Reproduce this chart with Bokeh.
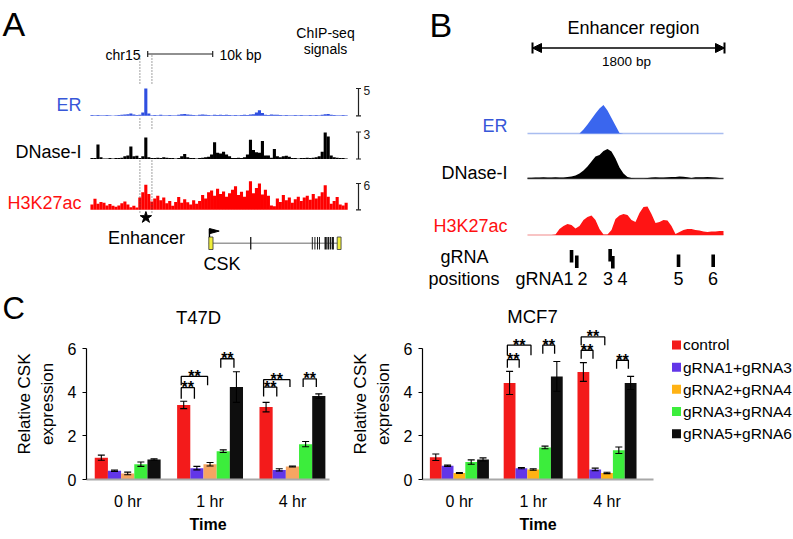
import numpy as np
from bokeh.plotting import figure
from bokeh.models import (Range1d, FixedTicker, Arrow, NormalHead, TeeHead,
                          Whisker, ColumnDataSource)
from bokeh.layouts import column, row
from bokeh.embed import file_html
from bokeh.resources import INLINE
from bokeh.core.properties import value

FONT = "Liberation Sans"

# ---------------- data ----------------
# Panel A: ChIP-seq signal per genomic bin (bin = 0.46 kb)
ER_A = [0.15, 0.10, 0.15, 0.10, 0.10, 0.15, 0.10, 0.05, 0.10, 0.15,
        0.20, 0.25, 0.30, 0.40, 0.25, 0.15, 0.20, 0.60, 5.00, 0.40,
        0.10, 0.15, 0.10, 0.20, 0.10, 0.10, 0.15, 0.10, 0.10, 0.20,
        0.30, 0.35, 0.25, 0.20, 0.15, 0.10, 0.20, 0.25, 0.20, 0.15,
        0.10, 0.20, 0.15, 0.20, 0.15, 0.20, 0.15, 0.10, 0.15, 0.10,
        0.15, 0.20, 0.15, 0.25, 0.30, 0.60, 1.00, 0.50, 0.20, 0.15,
        0.25, 0.20, 0.20, 0.15, 0.10, 0.15, 0.10, 0.10, 0.15, 0.10,
        0.15, 0.10, 0.10, 0.15, 0.10, 0.15, 0.10, 0.20, 0.30, 0.35,
        0.20, 0.15, 0.10, 0.10, 0.15, 0.10]
DNASE_A = [0.10, 0.10, 1.60, 0.20, 0.05, 0.05, 0.10, 0.05, 0.10, 0.10,
           0.15, 0.30, 0.40, 1.40, 0.30, 0.35, 0.10, 0.30, 2.40, 0.20,
           0.10, 0.10, 0.15, 0.10, 0.20, 0.15, 0.10, 0.10, 0.05, 0.10,
           0.30, 0.55, 0.20, 0.10, 0.10, 0.05, 0.10, 0.15, 0.20, 0.25,
           0.50, 1.85, 0.70, 0.60, 0.80, 0.50, 0.30, 0.10, 0.10, 0.15,
           0.10, 0.20, 0.50, 2.15, 1.00, 0.75, 0.70, 2.00, 0.40, 0.40,
           0.15, 1.10, 0.30, 0.20, 0.30, 0.35, 0.25, 0.10, 0.10, 0.05,
           0.10, 0.10, 0.15, 0.10, 0.15, 0.20, 0.30, 0.80, 2.95, 2.50,
           0.40, 0.20, 0.15, 0.10, 0.10, 0.05]
H3K27AC_A = [1.2, 2.5, 1.4, 1.8, 1.6, 1.0, 1.3, 0.9, 0.7, 1.0,
             1.5, 1.9, 1.2, 0.6, 0.9, 0.5, 2.8, 4.0, 5.7, 3.6,
             1.9, 2.6, 3.2, 2.2, 2.8, 1.5, 2.0, 0.9, 1.8, 2.9,
             1.6, 2.4, 1.7, 1.2, 2.2, 1.4, 2.0, 3.4, 2.6, 4.0,
             4.4, 3.2, 4.8, 3.6, 4.2, 3.0, 3.8, 4.6, 5.4, 3.4,
             4.1, 3.0, 4.4, 6.5, 3.8, 5.0, 6.0, 3.5, 4.6, 3.2,
             1.0, 0.8, 2.6, 1.8, 3.4, 2.2, 2.8, 1.6, 2.4, 3.0,
             2.0, 2.8, 3.2, 2.3, 3.6, 2.6, 3.1, 4.0, 5.6, 3.0,
             1.4, 2.0, 2.9, 1.2, 1.0, 1.6]
TRACK_MAX_A = [5, 3, 6]
# CSK gene model (kb along panel A)
CSK_EXON_START = [18.2, 24.55, 34.05, 34.45, 34.85, 35.15, 36.0, 36.45, 36.8, 37.15, 37.95]
CSK_EXON_END = [18.85, 24.75, 34.2, 34.6, 35.0, 35.3, 36.35, 36.7, 37.05, 37.45, 38.55]
CSK_UTR = [True, False, False, False, False, False, False, False, False, False, True]
SCALE_KB = 10

# Panel B: enhancer-region signals sampled every 37.5 bp
ER_B = [0, 0, 0, 0, 0, 0, 0, 0, 0, 0, 0, 0, 0, 0,
        4, 9, 14.5, 20, 25, 28.5, 23, 15.5, 8, 0.5,
        0, 0, 0, 0, 0, 0, 0, 0, 0, 0, 0, 0, 0, 0, 0, 0, 0, 0, 0, 0, 0, 0, 0, 0, 0, 0]
DNASE_B = [0.8, 0.8, 1.0, 1.0, 1.2, 1.0, 1.0, 1.2, 1.0, 1.0,
           1.5, 2.0, 3.0, 5.0, 8.0, 12.0, 17.0, 22.0, 23.5, 27.5,
           29.5, 27.0, 20.0, 11.0, 5.0, 1.5, 0.5, 0.3, 0.3, 0.3,
           0.5, 1.0, 1.2, 1.0, 1.0, 1.3, 1.5, 1.6, 2.0, 1.8,
           1.2, 0.5, 1.2, 1.3, 1.3, 1.4, 1.2, 1.0, 0.5, 0.3]
H3K27AC_B = [0, 0, 0, 0, 0, 0, 0,
             0.5, 6, 9, 11, 10, 6.5, 9, 15, 18, 19.5, 15, 6, 0.5,
             0.5, 5, 16, 19.5, 21, 20, 15, 13, 22, 28,
             28.5, 21, 12, 13, 15, 14.5, 9, 1, 3, 5,
             6, 6, 5, 4.5, 3.5, 3, 3.5, 3.5, 4, 4]
GRNA_LABELS = ["1", "2", "3", "4", "5", "6"]
GRNA_BP = [366, 415, 728, 753, 1369, 1694]
REGION_BP = 1800

# Panel C: relative CSK expression, [series][time]
TIMES = ["0 hr", "1 hr", "4 hr"]
SERIES = ["control", "gRNA1+gRNA3", "gRNA2+gRNA4", "gRNA3+gRNA4", "gRNA5+gRNA6"]
T47D_MEAN = [[1.00, 3.42, 3.32],
             [0.40, 0.52, 0.44],
             [0.28, 0.70, 0.60],
             [0.70, 1.30, 1.62],
             [0.92, 4.24, 3.83]]
T47D_ERR = [[0.12, 0.17, 0.22],
            [0.03, 0.08, 0.05],
            [0.06, 0.08, 0.02],
            [0.10, 0.06, 0.12],
            [0.03, 0.70, 0.10]]
MCF7_MEAN = [[1.02, 4.43, 4.93],
             [0.63, 0.52, 0.46],
             [0.30, 0.46, 0.30],
             [0.80, 1.47, 1.34],
             [0.92, 4.73, 4.43]]
MCF7_ERR = [[0.15, 0.53, 0.43],
            [0.03, 0.03, 0.06],
            [0.02, 0.03, 0.03],
            [0.10, 0.06, 0.15],
            [0.07, 0.68, 0.30]]
# significance brackets: (time index, from series, to series, top, leg bottom)
T47D_SIG = [(1, 0, 2, 4.73, 4.32), (1, 0, 1, 4.21, 3.70), (1, 3, 4, 5.54, 5.13),
            (2, 0, 2, 4.58, 4.24), (2, 0, 1, 4.24, 3.81), (2, 3, 4, 4.62, 4.24)]
MCF7_SIG = [(1, 0, 2, 6.16, 5.70), (1, 0, 1, 5.50, 5.13), (1, 3, 4, 6.16, 5.77),
            (2, 0, 2, 6.54, 6.16), (2, 0, 1, 5.93, 5.54), (2, 3, 4, 5.47, 5.08)]

# ---------------- styles ----------------
BLUE = "#3757d8"
RED = "#ff1010"
T47D_COLORS = ["#f31b1b", "#6236e8", "#f6a562", "#3ced3c", "#0e0e0e"]
MCF7_COLORS = ["#f31b1b", "#6236e8", "#ffb214", "#3ced3c", "#0e0e0e"]


def txt(p, x, y, s, size, color="black", align="left", baseline="middle",
        style="normal", **kw):
    p.text(x=[x], y=[y], text=[s], text_font=value(FONT), text_font_size=f"{size}px",
           text_color=color, text_align=align, text_baseline=baseline,
           text_font_style=style, **kw)


def canvas_fig(w, y0, y1):
    p = figure(width=w, height=y1 - y0, x_range=Range1d(0, w), y_range=Range1d(y1, y0),
               output_backend="svg", toolbar_location=None, min_border=0,
               x_axis_location=None, y_axis_location=None)
    p.grid.visible = False
    p.outline_line_color = None
    return p


# ================= top figure: panels A and B =================
W = 793
Y_TOP, Y_BOT = 0, 290
top = canvas_fig(W, Y_TOP, Y_BOT)
X_L, X_R = 0, W


def yr(base, px_per_unit):
    return Range1d(-(Y_BOT - base) / px_per_unit, (base - Y_TOP) / px_per_unit)


# ---- panel A
KB_PX, A_X0, BIN_KB = 6.5, 90.0, 0.46
top.extra_x_ranges["kb"] = Range1d((X_L - A_X0) / KB_PX, (X_R - A_X0) / KB_PX)
tracks_a = [("erA", 115.3, 27.3, ER_A, "#2f4fe0", "ER", BLUE, 104),
            ("dnA", 158.5, 27.0, DNASE_A, "#000000", "DNase-I", "black", 151),
            ("hkA", 209.3, 26.3, H3K27AC_A, "#ff0000", "H3K27ac", RED, 202)]
for (name, base, hpx, vals, col, lab, labcol, laby), smax in zip(tracks_a, TRACK_MAX_A):
    top.extra_y_ranges[name] = yr(base, hpx / smax)
    xs = (np.arange(len(vals)) + 0.5) * BIN_KB
    top.vbar(x=xs, width=BIN_KB * 1.04, top=vals, bottom=0, x_range_name="kb",
             y_range_name=name, fill_color=col, line_color=None)
    top.segment(x0=[358], y0=[0], x1=[358], y1=[smax], y_range_name=name,
                line_color="#222222", line_width=1.2)
    top.segment(x0=[355.5, 355.5], y0=[0, smax], x1=[360.5, 360.5], y1=[0, smax],
                y_range_name=name, line_color="#222222", line_width=1.2)
    top.text(x=[363], y=[smax], text=[str(smax)], y_range_name=name,
             text_font=value(FONT), text_font_size="12px", text_baseline="middle",
             y_offset=2, text_color="#222222")
    txt(top, 81, laby, lab, 18, color=labcol, align="right")

# enhancer dotted guides
enh_kb = [7.6, 9.45]
for y0, y1 in [(55, 85), (118, 130), (160, 213)]:
    top.segment(x0=enh_kb, y0=[y0, y0], x1=enh_kb, y1=[y1, y1], x_range_name="kb",
                line_color="#444444", line_width=1, line_dash="1 2")
top.scatter(x=[(enh_kb[0] + enh_kb[1]) / 2], y=[217], x_range_name="kb",
            marker="star", size=12, color="black")

# scale bar
sb0 = 8.8
top.segment(x0=[sb0], y0=[53.5], x1=[sb0 + SCALE_KB], y1=[53.5], x_range_name="kb",
            line_color="#222222", line_width=1.2)
top.segment(x0=[sb0, sb0 + SCALE_KB], y0=[50.5, 50.5], x1=[sb0, sb0 + SCALE_KB],
            y1=[56.5, 56.5], x_range_name="kb", line_color="#222222", line_width=1.2)
txt(top, 140, 54, "chr15", 14, align="right")
txt(top, 219, 54, "10k bp", 14)
txt(top, 325, 32, "ChIP-seq", 14, align="center")
txt(top, 325, 48.5, "signals", 14, align="center")
txt(top, 2, 23, "A", 34)

# gene model
top.segment(x0=[CSK_EXON_START[0]], y0=[242.7], x1=[CSK_EXON_END[-1]], y1=[242.7],
            x_range_name="kb", line_color="#9a9a9a", line_width=1.6)
ex_col = ["#f0ee3a" if u else "#1a1a1a" for u in CSK_UTR]
top.quad(left=CSK_EXON_START, right=CSK_EXON_END, top=[236.5] * len(CSK_EXON_START),
         bottom=[249] * len(CSK_EXON_START), x_range_name="kb",
         fill_color=ex_col, line_color="#333333",
         line_width=[0.8 if u else 0 for u in CSK_UTR])
g0 = CSK_EXON_START[0] + 0.1
top.segment(x0=[g0], y0=[236.5], x1=[g0], y1=[228.5], x_range_name="kb",
            line_color="black", line_width=1.4)
top.patch(x=[g0, g0 + 1.5, g0], y=[228, 230.6, 233.2], x_range_name="kb",
          fill_color="black", line_color="black")
txt(top, 146, 237, "Enhancer", 18, align="center")
txt(top, 221.5, 263, "CSK", 18, align="center")

# ---- panel B
BP_PX, B_X0 = 192.0 / REGION_BP, 532.0
B_START_BP, B_STEP_BP = -47.0, 37.5
top.extra_x_ranges["bp"] = Range1d((X_L - B_X0) / BP_PX, (X_R - B_X0) / BP_PX)
bx = B_START_BP + B_STEP_BP * np.arange(len(ER_B))
tracks_b = [("erB", 133, ER_B, "#3a66ee", "#a9bdf0", "ER", BLUE, 125),
            ("dnB", 178, DNASE_B, "#000000", "#555555", "DNase-I", "black", 172),
            ("hkB", 234.5, H3K27AC_B, "#ff1414", "#f6b0b0", "H3K27ac", RED, 225)]
for name, base, vals, col, bcol, lab, labcol, laby in tracks_b:
    top.extra_y_ranges[name] = yr(base, 1.0)
    top.line(x=[bx[0], bx[-1]], y=[0, 0], x_range_name="bp", y_range_name=name,
             line_color=bcol, line_width=1.3)
    top.varea(x=bx, y1=np.zeros(len(vals)), y2=vals, x_range_name="bp",
              y_range_name=name, fill_color=col)
    txt(top, 507, laby, lab, 18, color=labcol, align="right")

txt(top, 429, 24, "B", 34)
txt(top, 633, 27, "Enhancer region", 18, align="center")
top.add_layout(Arrow(start=NormalHead(size=9, fill_color="black", line_color="black"),
                     end=NormalHead(size=9, fill_color="black", line_color="black"),
                     x_start=0, y_start=47.5, x_end=REGION_BP, y_end=47.5,
                     x_range_name="bp", line_width=1.5))
top.segment(x0=[0, REGION_BP], y0=[42, 42], x1=[0, REGION_BP], y1=[53, 53],
            x_range_name="bp", line_color="black", line_width=2)
txt(top, 626, 61, f"{REGION_BP} bp", 13.5, align="center")

grna_top = [249.5, 255, 248.5, 255.5, 254, 254]
top.quad(left=[b - 17 for b in GRNA_BP], right=[b + 17 for b in GRNA_BP],
         top=grna_top, bottom=[t + 12.5 for t in grna_top], x_range_name="bp",
         fill_color="black", line_color=None)
txt(top, 440, 256, "gRNA", 18)
txt(top, 428, 278, "positions", 18)
txt(top, 573, 278, "gRNA" + GRNA_LABELS[0], 18, align="right")
for lab, xpos in zip(GRNA_LABELS[1:], [582, 607.5, 622, 678, 712.5]):
    txt(top, xpos, 278, lab, 18, align="center")

# ================= panel C =================
STRIP_Y1 = 328
strip = canvas_fig(W, Y_BOT, STRIP_Y1)
txt(strip, 2, 307.5, "C", 31)
txt(strip, 198, 317, "T47D", 18.5, align="center")
txt(strip, 532, 315.5, "MCF7", 18.5, align="center")

CH_H = 539 - STRIP_Y1
BAR_STEP, BAR_W = 0.16, 0.16
PX_PER_UNIT = 21.8
BOTTOM_BORDER = 60
Y_END = (CH_H - BOTTOM_BORDER) / PX_PER_UNIT


def bar_chart(means, errs, sig, colors, xend, width, bl, br):
    p = figure(width=width, height=CH_H, x_range=Range1d(0, xend),
               y_range=Range1d(0, Y_END), output_backend="svg", toolbar_location=None,
               min_border_left=bl, min_border_right=br, min_border_top=0,
               min_border_bottom=BOTTOM_BORDER)
    p.outline_line_color = None
    p.grid.visible = False
    for j in range(len(SERIES)):
        xs = [t + 0.5 + (j - 2) * BAR_STEP for t in range(len(TIMES))]
        p.vbar(x=xs, top=means[j], width=BAR_W, bottom=0, fill_color=colors[j],
               line_color=None)
        src = ColumnDataSource(dict(x=xs, u=[m + e for m, e in zip(means[j], errs[j])],
                                    l=[m - e for m, e in zip(means[j], errs[j])]))
        p.add_layout(Whisker(source=src, base="x", upper="u", lower="l", level="annotation",
                             line_color="black", line_width=1.1,
                             upper_head=TeeHead(size=7, line_width=1.1, line_color="black"),
                             lower_head=TeeHead(size=7, line_width=1.1, line_color="black")))
    for t, a, b, ytop, ybot in sig:
        x0 = t + 0.5 + (a - 2) * BAR_STEP - 0.03
        x1 = t + 0.5 + (b - 2) * BAR_STEP - 0.03
        p.line(x=[x0, x0, x1, x1], y=[ybot, ytop, ytop, ybot], line_color="black",
               line_width=1.3)
        p.text(x=[(x0 + x1) / 2], y=[ytop], text=["**"], text_font=value(FONT),
               text_font_size="16px", text_font_style="bold", text_align="center",
               text_baseline="middle", text_color="black")
    # y axis
    ya = p.yaxis[0]
    ya.ticker = FixedTicker(ticks=[0, 2, 4, 6])
    ya.bounds = (0, 6)
    ya.major_tick_out = 4
    ya.major_tick_in = 0
    ya.minor_tick_out = 0
    ya.minor_tick_in = 0
    ya.axis_line_color = "black"
    ya.axis_line_width = 1.2
    ya.major_tick_line_width = 1.2
    ya.major_label_text_font = FONT
    ya.major_label_text_font_size = "16px"
    ya.major_label_text_color = "black"
    ya.major_label_standoff = 6
    ya.axis_label = "Relative CSK\nexpression"
    ya.axis_label_text_font = FONT
    ya.axis_label_text_font_size = "17px"
    ya.axis_label_text_font_style = "normal"
    ya.axis_label_text_color = "black"
    ya.axis_label_standoff = 8
    # x axis
    xa = p.xaxis[0]
    xa.ticker = FixedTicker(ticks=[t + 0.5 for t in range(len(TIMES))])
    xa.major_label_overrides = {t + 0.5: s for t, s in enumerate(TIMES)}
    xa.major_tick_out = 0
    xa.major_tick_in = 0
    xa.minor_tick_out = 0
    xa.minor_tick_in = 0
    xa.axis_line_color = "#a8a8a8"
    xa.axis_line_width = 1.8
    xa.major_label_text_font = FONT
    xa.major_label_text_font_size = "16px"
    xa.major_label_text_color = "black"
    xa.major_label_standoff = 13
    xa.axis_label = "Time"
    xa.axis_label_text_font = FONT
    xa.axis_label_text_font_size = "16px"
    xa.axis_label_text_font_style = "bold"
    xa.axis_label_text_color = "black"
    xa.axis_label_standoff = 3
    return p


t47d = bar_chart(T47D_MEAN, T47D_ERR, T47D_SIG, T47D_COLORS, 2.95, 345, 86, 16)
mcf7 = bar_chart(MCF7_MEAN, MCF7_ERR, MCF7_SIG, MCF7_COLORS, 3.13, 315, 77, 7)

# legend panel
LEG_W = W - 345 - 315
leg = figure(width=LEG_W, height=CH_H, x_range=Range1d(0, LEG_W),
             y_range=Range1d(539, STRIP_Y1), output_backend="svg",
             toolbar_location=None, min_border=0, x_axis_location=None,
             y_axis_location=None)
leg.grid.visible = False
leg.outline_line_color = None
ly = [351 + 31 * k for k in range(len(SERIES))]
leg.scatter(x=[16] * len(SERIES), y=ly, marker="square", size=9, fill_color=MCF7_COLORS,
            line_color=None)
leg.text(x=[22.5] * len(SERIES), y=ly, text=SERIES, text_font=value(FONT),
         text_font_size="15.5px", text_baseline="middle", text_align="left",
         text_color="black")

layout = column(top, strip, row(t47d, mcf7, leg))
open("out.html", "w").write(file_html(layout, INLINE))
